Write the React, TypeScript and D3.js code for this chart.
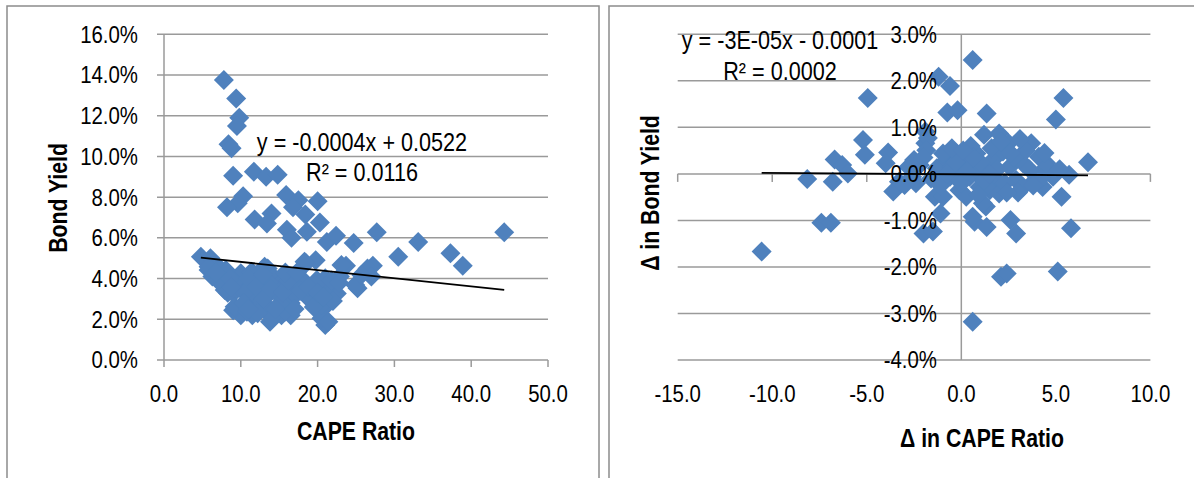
import React from 'react'
import * as d3 from 'd3'

// left panel: CAPE ratio vs bond yield (yield in %)
const capeRatio = [
  7.8, 9.4, 9.8, 9.5, 8.4, 8.8, 9.0, 11.7, 13.3, 14.8, 10.3, 9.6, 8.2, 15.9, 17.5, 20.0, 16.8, 18.4, 20.3, 11.8,
  14.0, 13.4, 16.0, 16.6, 18.6, 21.2, 22.4, 24.7, 27.7, 33.1, 30.5, 37.3, 38.9, 44.3, 23.7, 27.2, 26.5, 25.2, 27.0, 22.5,
  21.0, 20.5, 21.2, 19.75, 18.5, 13.8, 15.3, 16.5, 11.5, 10.0, 9.0, 11.8, 13.5, 16.5, 19.0, 8.3, 4.8, 6.05, 5.8, 6.3,
  8.05, 10.0, 11.5, 13.5, 9.5, 7.55, 9.0, 7.0, 12.5, 14.2, 10.8, 12.5, 14.7, 16.0, 16.8, 18.1, 18.6, 19.9, 20.3, 21.2,
  22.9, 16.4, 15.1, 9.0, 5.8, 8.2, 7.9, 10.1, 11.4, 13.1, 9.2, 10.8, 14.0, 15.75, 15.1, 12.7, 11.4, 17.1, 18.3, 19.0,
  21.0, 21.4, 23.1, 24.9, 25.7, 20.5, 14.9, 17.5, 19.7, 9.2, 13.6, 15.75,
  7.0, 8.6, 10.5, 11.0, 12.0, 13.0, 13.9, 14.5, 15.5, 16.2, 17.0, 17.8, 18.8, 19.5, 20.0, 21.8, 22.0, 12.2, 10.4, 15.8,
  11.0, 6.8, 8.8, 12.9, 17.3, 20.8, 22.8,
]
const bondYield = [
  13.75, 12.85, 11.9, 11.5, 10.6, 10.4, 9.05, 9.25, 9.0, 9.1, 8.05, 7.7, 7.5, 8.1, 7.85, 7.8, 7.5, 7.15, 6.75, 6.9,
  7.2, 6.7, 6.4, 6.0, 6.3, 5.8, 6.1, 5.75, 6.27, 5.8, 5.07, 5.24, 4.63, 6.27, 4.63, 4.63, 4.5, 3.52, 4.1, 3.27,
  1.72, 2.05, 2.7, 4.9, 4.75, 1.88, 2.2, 2.2, 2.2, 2.2, 2.45, 2.6, 2.6, 2.8, 3.0, 3.3, 5.07, 5.0, 4.42, 4.1,
  4.42, 4.26, 4.26, 4.5, 3.77, 3.85, 3.28, 4.6, 3.93, 4.1, 3.77, 3.28, 3.28, 2.62, 3.6, 3.93, 3.11, 3.93, 2.87, 3.6,
  4.1, 4.1, 3.77, 3.93, 4.58, 4.34, 3.44, 4.17, 4.34, 4.58, 2.62, 2.37, 2.13, 2.37, 2.78, 3.19, 3.36, 3.19, 4.83, 3.03,
  4.01, 1.88, 4.67, 3.68, 4.17, 2.7, 3.68, 3.85, 3.68, 3.85, 3.85, 4.01,
  3.9, 4.0, 3.3, 4.0, 3.6, 3.0, 3.5, 2.5, 3.3, 3.9, 2.5, 3.4, 3.6, 2.6, 3.3, 3.9, 2.9, 2.3, 2.8, 4.3,
  2.5, 4.3, 3.6, 4.2, 4.3, 3.1, 3.8,
]

// right panel: change in CAPE vs change in bond yield (in %)
const capeChange = [
  -10.56, -8.15, -6.8, -6.7, -6.3, -6.0, -7.4, -6.9, -5.2, -5.1, -4.95, -3.87, -4.0, -3.6, -3.3, -2.8, -2.4, -1.9, -1.9, -2.0,
  -1.5, -1.1, -1.4, -1.2, -0.6, -0.74, -0.2, 0.6, 0.6, 0.7, 1.34, 1.3, 1.34, 1.2, 2.0, 2.5, 3.7, 2.1, 2.4, 2.6,
  2.9, 5.1, 5.8, 5.3, 5.4, 5.0, 6.7, 5.7, 4.5, 4.0, 4.8, -3.0, -2.6, -1.77, -1.85, -2.2, -1.3, -0.8, -0.6, -0.26,
  -0.1, 0.26, 0.44, 0.8, 0.97, 1.14, 1.32, 1.67, 1.85, 2.2, 2.55, 2.9, 3.26, 3.4, 3.9, 4.1, 4.5, 4.85, 0.6, -0.97,
  0.26, 1.5, 3.26, 4.3, 2.0, -0.26, -0.97, 0.8, -0.5, 0.1,
  -2.5, -1.6, -2.0, -0.3, 0.0, 0.5, 1.0, 0.9, 1.6, 1.9, 2.3, 2.8, 3.0, 3.6, 4.2, -0.5, 0.3, 1.2, 2.1, 2.6,
  3.1, 4.4, 5.2, -1.1, 0.6, 1.5, 2.4, 3.8, -0.8, 0.1,
]
const yieldChange = [
  -1.67, -0.11, -0.17, 0.31, 0.19, 0.01, -1.05, -1.05, 0.73, 0.41, 1.63, 0.46, 0.23, -0.38, -0.17, 0.15, -0.2, 0.91, 0.66, -1.28,
  -1.24, -0.85, -0.49, 2.09, 1.89, 1.32, 1.37, 2.45, -3.18, -1.03, -1.14, -0.7, 1.3, 0.84, 0.87, 0.66, 0.66, -2.21, -2.14, -0.99,
  -1.28, -2.1, -1.17, -0.49, 1.63, 1.17, 0.25, -0.02, 0.23, -0.06, 0.01, -0.24, -0.06, 0.77, 0.51, 0.19, 0.12, 0.3, -0.06, 0.44,
  -0.35, 0.23, -0.06, 0.44, -0.28, -0.63, 0.15, 0.3, -0.13, 0.48, 0.15, -0.13, 0.23, 0.5, -0.13, 0.37, 0.15, -0.06, -0.92, -0.49,
  -0.49, -0.35, -0.28, -0.28, -0.42, -0.06, 0.44, 0.08, 0.15, 0.1,
  0.3, -0.1, 0.35, 0.25, -0.2, 0.6, 0.25, -0.45, 0.55, 0.1, -0.2, 0.35, -0.4, 0.1, -0.1, 0.55, 0.05, -0.15, 0.7, 0.45,
  0.75, 0.45, 0.1, -0.25, 0.35, 0.0, -0.4, -0.25, 0.0, 0.5,
]

const leftXTicks = [0, 10, 20, 30, 40, 50]
const leftYTicks = [0, 0.02, 0.04, 0.06, 0.08, 0.1, 0.12, 0.14, 0.16]
const rightXTicks = [-15, -10, -5, 0, 5, 10]
const rightYTicks = [-0.04, -0.03, -0.02, -0.01, 0, 0.01, 0.02, 0.03]

const leftFit = { slope: -0.0004, intercept: 0.0522, eq: 'y = -0.0004x + 0.0522', r2: 'R² = 0.0116' }
const rightFit = { slope: -3e-5, intercept: -0.0001, eq: 'y = -3E-05x - 0.0001', r2: 'R² = 0.0002' }

const locale = d3.formatLocale({ decimal: '.', thousands: ',', grouping: [3], currency: ['$', ''], minus: '-' })
const fmtX = locale.format('.1f')
const fmtY = locale.format('.1%')

const FONT = '"Liberation Sans", Arial, sans-serif'
const GRID = '#9a9a9a'
const BLUE = '#4f81bd'
const SQ = 0.85 // squeeze to imitate a narrow font

const diamond = d3.symbol(d3.symbolSquare, 2 * 10 * 10)()

// condensed text, anchored at (x, y)
function Txt(props: any) {
  const { x, y, rot, anchor, size, bold, dy, sq, children } = props
  const tr = `translate(${x},${y})${rot ? ` rotate(${rot})` : ''} scale(${sq || SQ},1)`
  return (
    <text transform={tr} textAnchor={anchor || 'middle'} fontSize={size || 24} fontWeight={bold ? 'bold' : 'normal'} dy={dy} fill="#000">
      {children}
    </text>
  )
}

export default function App() {
  const W = 1194
  const H = 478

  const xL = d3.scaleLinear().domain([0, 50]).range([164, 548])
  const yL = d3.scaleLinear().domain([0, 0.16]).range([360, 34.3])
  const xR = d3.scaleLinear().domain([-15, 10]).range([677.7, 1150.4])
  const yR = d3.scaleLinear().domain([-0.04, 0.03]).range([360, 34.3])

  const leftPts = capeRatio.map((c, i) => [c, bondYield[i] / 100])
  const rightPts = capeChange.map((c, i) => [c, yieldChange[i] / 100])

  const lx = d3.extent(capeRatio) as [number, number]
  const rx = d3.extent(capeChange) as [number, number]

  const lineL = d3.line<number>().x(d => xL(d)).y(d => yL(leftFit.slope * d + leftFit.intercept))
  const lineR = d3.line<number>().x(d => xR(d)).y(d => yR(rightFit.slope * d + rightFit.intercept))

  return (
    <svg width={W} height={H} style={{ position: 'absolute', left: 0, top: 0, background: '#fff' }} fontFamily={FONT}>
      {/* panel frames */}
      <rect x={7} y={6} width={592} height={500} fill="#fff" stroke="#8c8c8c" strokeWidth={1.5} />
      <rect x={609} y={6} width={600} height={500} fill="#fff" stroke="#8c8c8c" strokeWidth={1.5} />

      {/* ---- left chart ---- */}
      <g>
        {leftYTicks.map(t => (
          <line key={t} x1={xL(0) - 7} x2={xL(50)} y1={yL(t)} y2={yL(t)} stroke={GRID} strokeWidth={1.5} />
        ))}
        <line x1={xL(0)} x2={xL(0)} y1={yL(0.16)} y2={yL(0)} stroke={GRID} strokeWidth={1.5} />
        {leftXTicks.map(t => (
          <line key={t} x1={xL(t)} x2={xL(t)} y1={yL(0)} y2={yL(0) + 7} stroke={GRID} strokeWidth={1.5} />
        ))}
        {leftPts.map((p, i) => (
          <path key={i} d={diamond!} transform={`translate(${xL(p[0])},${yL(p[1])}) rotate(45)`} fill={BLUE} />
        ))}
        <path d={lineL(lx)!} stroke="#000" strokeWidth={1.8} fill="none" />
        {leftYTicks.map(t => (
          <Txt key={t} x={138} y={yL(t)} dy="0.35em" anchor="end">{fmtY(t)}</Txt>
        ))}
        {leftXTicks.map(t => (
          <Txt key={t} x={xL(t)} y={402}>{fmtX(t)}</Txt>
        ))}
        <Txt x={356} y={440} size={25} bold>CAPE Ratio</Txt>
        <Txt x={67} y={198} rot={-90} size={25} bold>Bond Yield</Txt>
        <Txt x={362} y={151} size={25} sq={0.865}>{leftFit.eq}</Txt>
        <Txt x={362} y={181} size={25} sq={0.865}>{leftFit.r2}</Txt>
      </g>

      {/* ---- right chart ---- */}
      <g>
        {rightYTicks.map(t => (
          <line key={t} x1={xR(-15)} x2={xR(10)} y1={yR(t)} y2={yR(t)} stroke={GRID} strokeWidth={1.5} />
        ))}
        <line x1={xR(0)} x2={xR(0)} y1={yR(0.03)} y2={yR(-0.04)} stroke={GRID} strokeWidth={1.5} />
        {rightXTicks.map(t => (
          <line key={t} x1={xR(t)} x2={xR(t)} y1={yR(0)} y2={yR(0) + 8} stroke={GRID} strokeWidth={1.5} />
        ))}
        {rightPts.map((p, i) => (
          <path key={i} d={diamond!} transform={`translate(${xR(p[0])},${yR(p[1])}) rotate(45)`} fill={BLUE} />
        ))}
        <path d={lineR(rx)!} stroke="#000" strokeWidth={1.8} fill="none" />
        {rightYTicks.map(t => (
          <Txt key={t} x={937} y={yR(t)} dy="0.35em" anchor="end">{fmtY(t)}</Txt>
        ))}
        {rightXTicks.map(t => (
          <Txt key={t} x={xR(t)} y={402}>{fmtX(t)}</Txt>
        ))}
        <Txt x={982} y={447} size={25} bold>Δ in CAPE Ratio</Txt>
        <Txt x={659} y={193} rot={-90} size={25} bold>Δ in Bond Yield</Txt>
        <Txt x={780} y={49} size={25} sq={0.865}>{rightFit.eq}</Txt>
        <Txt x={780} y={80} size={25} sq={0.865}>{rightFit.r2}</Txt>
      </g>
    </svg>
  )
}
